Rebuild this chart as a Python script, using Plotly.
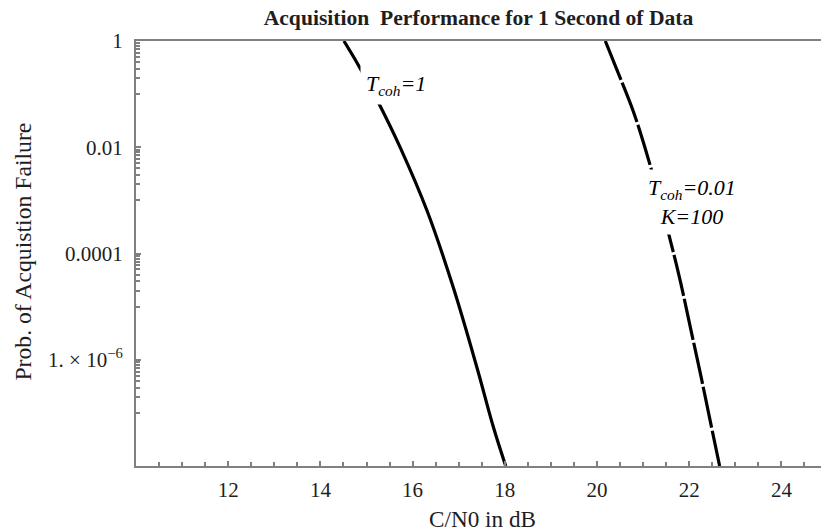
import plotly.graph_objects as go

# C/N0 (dB) and log10 of acquisition failure probability for each detector
cn0_tcoh1 = [14.51, 14.80, 15.23, 15.74, 16.32, 16.89, 17.40, 17.76, 18.02]
logp_tcoh1 = [0.0, -0.42, -1.11, -2.02, -3.21, -4.66, -6.16, -7.29, -8.0]

cn0_tcoh001 = [20.18, 20.45, 20.79, 21.13, 21.56, 21.81, 22.03, 22.25, 22.46, 22.66]
logp_tcoh001 = [0.0, -0.58, -1.33, -2.27, -3.65, -4.53, -5.41, -6.29, -7.17, -8.0]

pfail_tcoh1 = [10 ** v for v in logp_tcoh1]
pfail_tcoh001 = [10 ** v for v in logp_tcoh001]

x_major = [12, 14, 16, 18, 20, 22, 24]
y_major = [1, 0.01, 0.0001, 1e-6]
y_major_text = ["1", "0.01", "0.0001", "1. \u00d7 10<sup>\u22126</sup>"]
y_minor = [m * 10.0 ** (k - 1) for k in (0, -2, -4, -6) for m in range(1, 10)]

SERIF = "Liberation Serif, Times New Roman, serif"
INK = "#1e1e1e"
AXIS = "#808080"

fig = go.Figure()
fig.add_trace(go.Scatter(
    x=cn0_tcoh1, y=pfail_tcoh1, mode="lines",
    line=dict(color="black", width=3.2, shape="spline", smoothing=1.0),
    showlegend=False, hoverinfo="skip",
))
fig.add_trace(go.Scatter(
    x=cn0_tcoh001, y=pfail_tcoh001, mode="lines",
    line=dict(color="black", width=3.2, dash="42px,3px", shape="spline", smoothing=1.0),
    showlegend=False, hoverinfo="skip",
))

fig.update_layout(
    width=821, height=532,
    margin=dict(l=136, r=0, t=41, b=66),
    paper_bgcolor="white", plot_bgcolor="white",
    font=dict(family=SERIF, size=21, color=INK),
    showlegend=False,
    xaxis=dict(
        range=[10, 10 + 685 / 46.1],
        showgrid=False, zeroline=False,
        showline=True, linecolor=AXIS, linewidth=2, mirror=True,
        tickmode="array", tickvals=x_major,
        ticks="inside", ticklen=5, tickwidth=1.5, tickcolor=AXIS,
        ticklabelstandoff=4,
        minor=dict(dtick=0.5, tick0=10, ticks="inside", ticklen=4, tickwidth=1.5, tickcolor=AXIS),
        tickfont=dict(family=SERIF, size=21, color=INK),
    ),
    yaxis=dict(
        type="log", range=[-8, 0],
        showgrid=False, zeroline=False,
        showline=True, linecolor=AXIS, linewidth=2,
        tickmode="array", tickvals=y_major, ticktext=y_major_text,
        ticks="inside", ticklen=5, tickwidth=1.5, tickcolor=AXIS,
        ticklabelstandoff=7,
        minor=dict(tickmode="array", tickvals=y_minor, ticks="inside", ticklen=4, tickwidth=1.5, tickcolor=AXIS),
        tickfont=dict(family=SERIF, size=21, color=INK),
    ),
    title=dict(
        text="<b>Acquisition\u00a0\u00a0Performance for 1 Second of Data</b>",
        font=dict(family=SERIF, size=21.6, color=INK),
        xref="paper", x=0.5, xanchor="center",
        yref="container", y=1 - 17 / 532, yanchor="middle",
    ),
)

# Axis titles
fig.add_annotation(
    text="C/N0 in dB", xref="paper", yref="paper", x=0.5055, y=-0.1247,
    xanchor="center", yanchor="middle", showarrow=False,
    font=dict(family=SERIF, size=23.2, color=INK),
)
fig.add_annotation(
    text="Prob. of Acquistion Failure", xref="paper", yref="paper", x=-0.1656, y=0.5035,
    xanchor="center", yanchor="middle", showarrow=False, textangle=-90,
    font=dict(family=SERIF, size=23.7, color=INK),
)

# Curve labels, drawn on a white box that breaks the line beneath them
fig.add_annotation(
    text="<i>T<sub>coh</sub>=1</i>", x=15.63, y=-0.83, xref="x", yref="y",
    showarrow=False, bgcolor="white", borderpad=5,
    font=dict(family=SERIF, size=22, color="black"),
)
fig.add_annotation(
    text="<i>T<sub>coh</sub>=0.01<br>K=100</i>", x=22.05, y=-3.03, xref="x", yref="y",
    showarrow=False, bgcolor="white", borderpad=5,
    font=dict(family=SERIF, size=22, color="black"),
)

fig.write_html("out.html")
